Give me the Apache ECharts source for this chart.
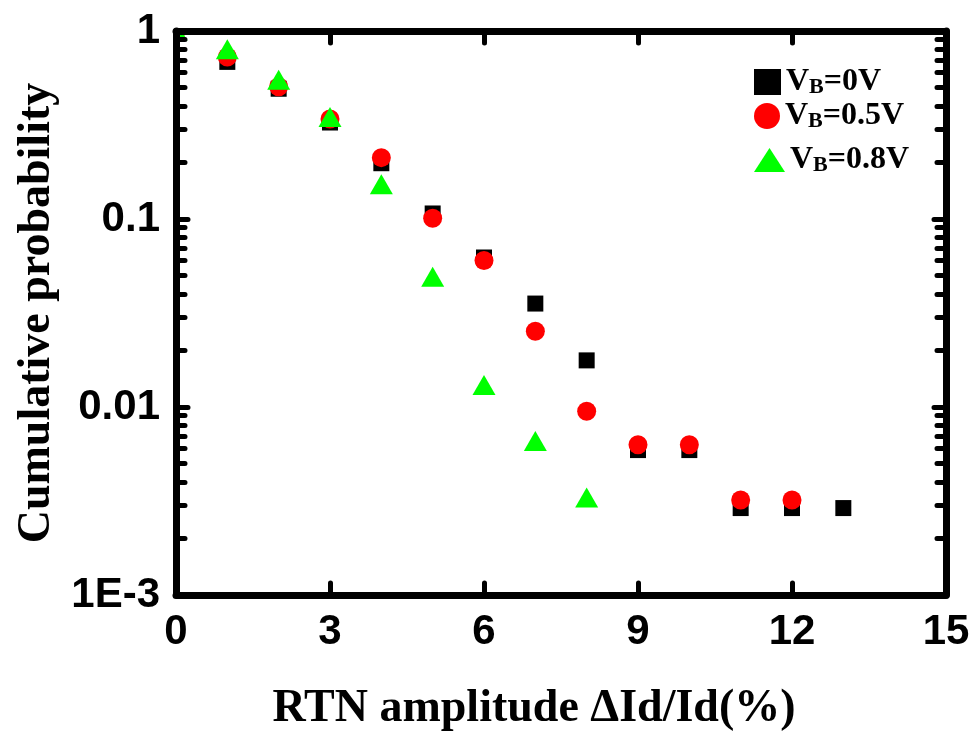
<!DOCTYPE html>
<html>
<head>
<meta charset="utf-8">
<script src="https://cdn.jsdelivr.net/npm/echarts@6/dist/echarts.min.js"></script>
<style>
  html, body { margin: 0; padding: 0; background: #fff; }
  #chart { width: 977px; height: 737px; }
</style>
</head>
<body>
<div id="chart"></div>
<script>
// RTN amplitude (%) on the x axis
const amplitude = [0, 1, 2, 3, 4, 5, 6, 7, 8, 9, 10, 11, 12, 13];

// Cumulative probability per body bias
const probVB0   = [1, 0.685, 0.493, 0.326, 0.198, 0.107, 0.0624, 0.0355, 0.0177, 0.0059, 0.0059, 0.0029, 0.0029, 0.0029];
const probVB05  = [1, 0.728, 0.505, 0.340, 0.212, 0.101, 0.0602, 0.0253, 0.0095, 0.0063, 0.0063, 0.0032, 0.0032];
const probVB08  = [1, 0.80, 0.55, 0.349, 0.153, 0.0493, 0.0131, 0.0066, 0.0033];

const biasLabels = ['0V', '0.5V', '0.8V'];

// Axis ticks
const yTickValues = [0.001, 0.01, 0.1, 1];
const yTickLabels = ['1E-3', '0.01', '0.1', '1'];
const minorMultipliers = [2, 3, 4, 5, 6, 7, 8, 9];

const minorValues = [];
yTickValues.slice(0, -1).forEach(d => minorMultipliers.forEach(m => minorValues.push(+(d * m).toPrecision(3))));

const pairs = (xs, ys) => ys.map((y, i) => [xs[i], y]);

const sansBold = { fontFamily: '"Liberation Sans", Arial, sans-serif', fontWeight: 'bold', color: '#000' };
const serifBold = { fontFamily: '"Liberation Serif", "Times New Roman", serif', fontWeight: 'bold', color: '#000' };

const axisLineStyle = { color: '#000', width: 7, cap: 'round' };
const majorTick = { inside: true, length: 12, lineStyle: { color: '#000', width: 5, cap: 'round' } };
const minorTickCfg = { inside: true, length: 9, lineStyle: { color: '#000', width: 5, cap: 'round' }, customValues: minorValues };

// axes sit above the markers so the frame covers symbols on its edge
const logAxisBase = { type: 'log', logBase: 10, min: 0.001, max: 1, splitLine: { show: false }, z: 5 };

const chart = echarts.init(document.getElementById('chart'), null, { renderer: 'canvas' });

const richText = {
  v: Object.assign({ fontSize: 32, lineHeight: 32, verticalAlign: 'top' }, serifBold),
  s: Object.assign({ fontSize: 22, lineHeight: 22, verticalAlign: 'bottom', padding: [16, 0, 0, 0] }, serifBold),
  t: Object.assign({ fontSize: 32, lineHeight: 32, verticalAlign: 'top' }, serifBold)
};

const seriesNames = biasLabels.map(b => 'VB=' + b);
const legendIcons = ['rect', 'circle', 'triangle'];
const legendSizes = [[27, 26], [26, 26], [31, 24]];
const legendTops = [60, 94, 138];

const legends = seriesNames.map((name, i) => ({
  data: [{ name: name, icon: legendIcons[i] }],
  left: 754,
  top: legendTops[i],
  padding: 0,
  itemWidth: legendSizes[i][0],
  itemHeight: legendSizes[i][1],
  selectedMode: false,
  formatter: () => '{v|V}{s|B}{t|=' + biasLabels[i] + '}',
  textStyle: { rich: richText }
}));

// Marker shapes, placed at the data point through the cartesian coordinate system
const markers = {
  square: (p, fill) => ({ type: 'rect', shape: { x: p[0] - 8, y: p[1] - 8, width: 16, height: 16 }, style: { fill } }),
  circle: (p, fill) => ({ type: 'circle', shape: { cx: p[0], cy: p[1], r: 9.5 }, style: { fill } }),
  triangle: (p, fill) => ({
    type: 'polygon',
    shape: { points: [[p[0], p[1] - 10], [p[0] + 11.5, p[1] + 10], [p[0] - 11.5, p[1] + 10]] },
    style: { fill }
  })
};

const markerSeries = (name, kind, color, data) => ({
  name: name,
  type: 'custom',
  clip: true,
  encode: { x: 0, y: 1 },
  itemStyle: { color: color },
  renderItem: (params, api) => {
    const p = api.coord([api.value(0), api.value(1)]);
    return markers[kind](p, api.visual('color'));
  },
  data: data
});

chart.setOption({
  animation: false,
  backgroundColor: '#fff',
  grid: { left: 176, right: 31, top: 31, bottom: 140 },
  legend: legends,
  xAxis: [
    {
      type: 'value', position: 'bottom', min: 0, max: 15, interval: 3, z: 5,
      axisLine: { lineStyle: axisLineStyle },
      axisTick: majorTick,
      splitLine: { show: false },
      axisLabel: Object.assign({ fontSize: 42, margin: 16 }, sansBold),
      name: 'RTN amplitude \u0394Id/Id(%)',
      nameLocation: 'middle',
      nameGap: 91,
      nameTextStyle: Object.assign({ fontSize: 46, padding: [0, 54, 0, 0] }, serifBold)
    },
    {
      type: 'value', position: 'top', min: 0, max: 15, interval: 3, z: 5,
      axisLine: { lineStyle: axisLineStyle },
      axisTick: majorTick,
      splitLine: { show: false },
      axisLabel: { show: false }
    }
  ],
  yAxis: [
    Object.assign({}, logAxisBase, {
      position: 'left',
      axisLine: { lineStyle: axisLineStyle },
      axisTick: majorTick,
      axisLabel: Object.assign({
        fontSize: 42, margin: 16,
        formatter: v => {
          const idx = yTickValues.findIndex(t => Math.abs(Math.log10(t) - Math.log10(v)) < 1e-6);
          return idx >= 0 ? yTickLabels[idx] : '';
        }
      }, sansBold),
      name: 'Cumulative probability',
      nameLocation: 'middle',
      nameGap: 110,
      nameTextStyle: Object.assign({ fontSize: 46 }, serifBold)
    }),
    Object.assign({}, logAxisBase, {
      position: 'left',
      axisLine: { show: false },
      axisTick: minorTickCfg,
      axisLabel: { show: false }
    }),
    Object.assign({}, logAxisBase, {
      position: 'right',
      axisLine: { lineStyle: axisLineStyle },
      axisTick: majorTick,
      axisLabel: { show: false }
    }),
    Object.assign({}, logAxisBase, {
      position: 'right',
      axisLine: { show: false },
      axisTick: minorTickCfg,
      axisLabel: { show: false }
    })
  ],
  series: [
    markerSeries(seriesNames[0], 'square', '#000000', pairs(amplitude, probVB0)),
    markerSeries(seriesNames[1], 'circle', '#ff0000', pairs(amplitude, probVB05)),
    markerSeries(seriesNames[2], 'triangle', '#00ff00', pairs(amplitude, probVB08))
  ]
});
</script>
</body>
</html>
